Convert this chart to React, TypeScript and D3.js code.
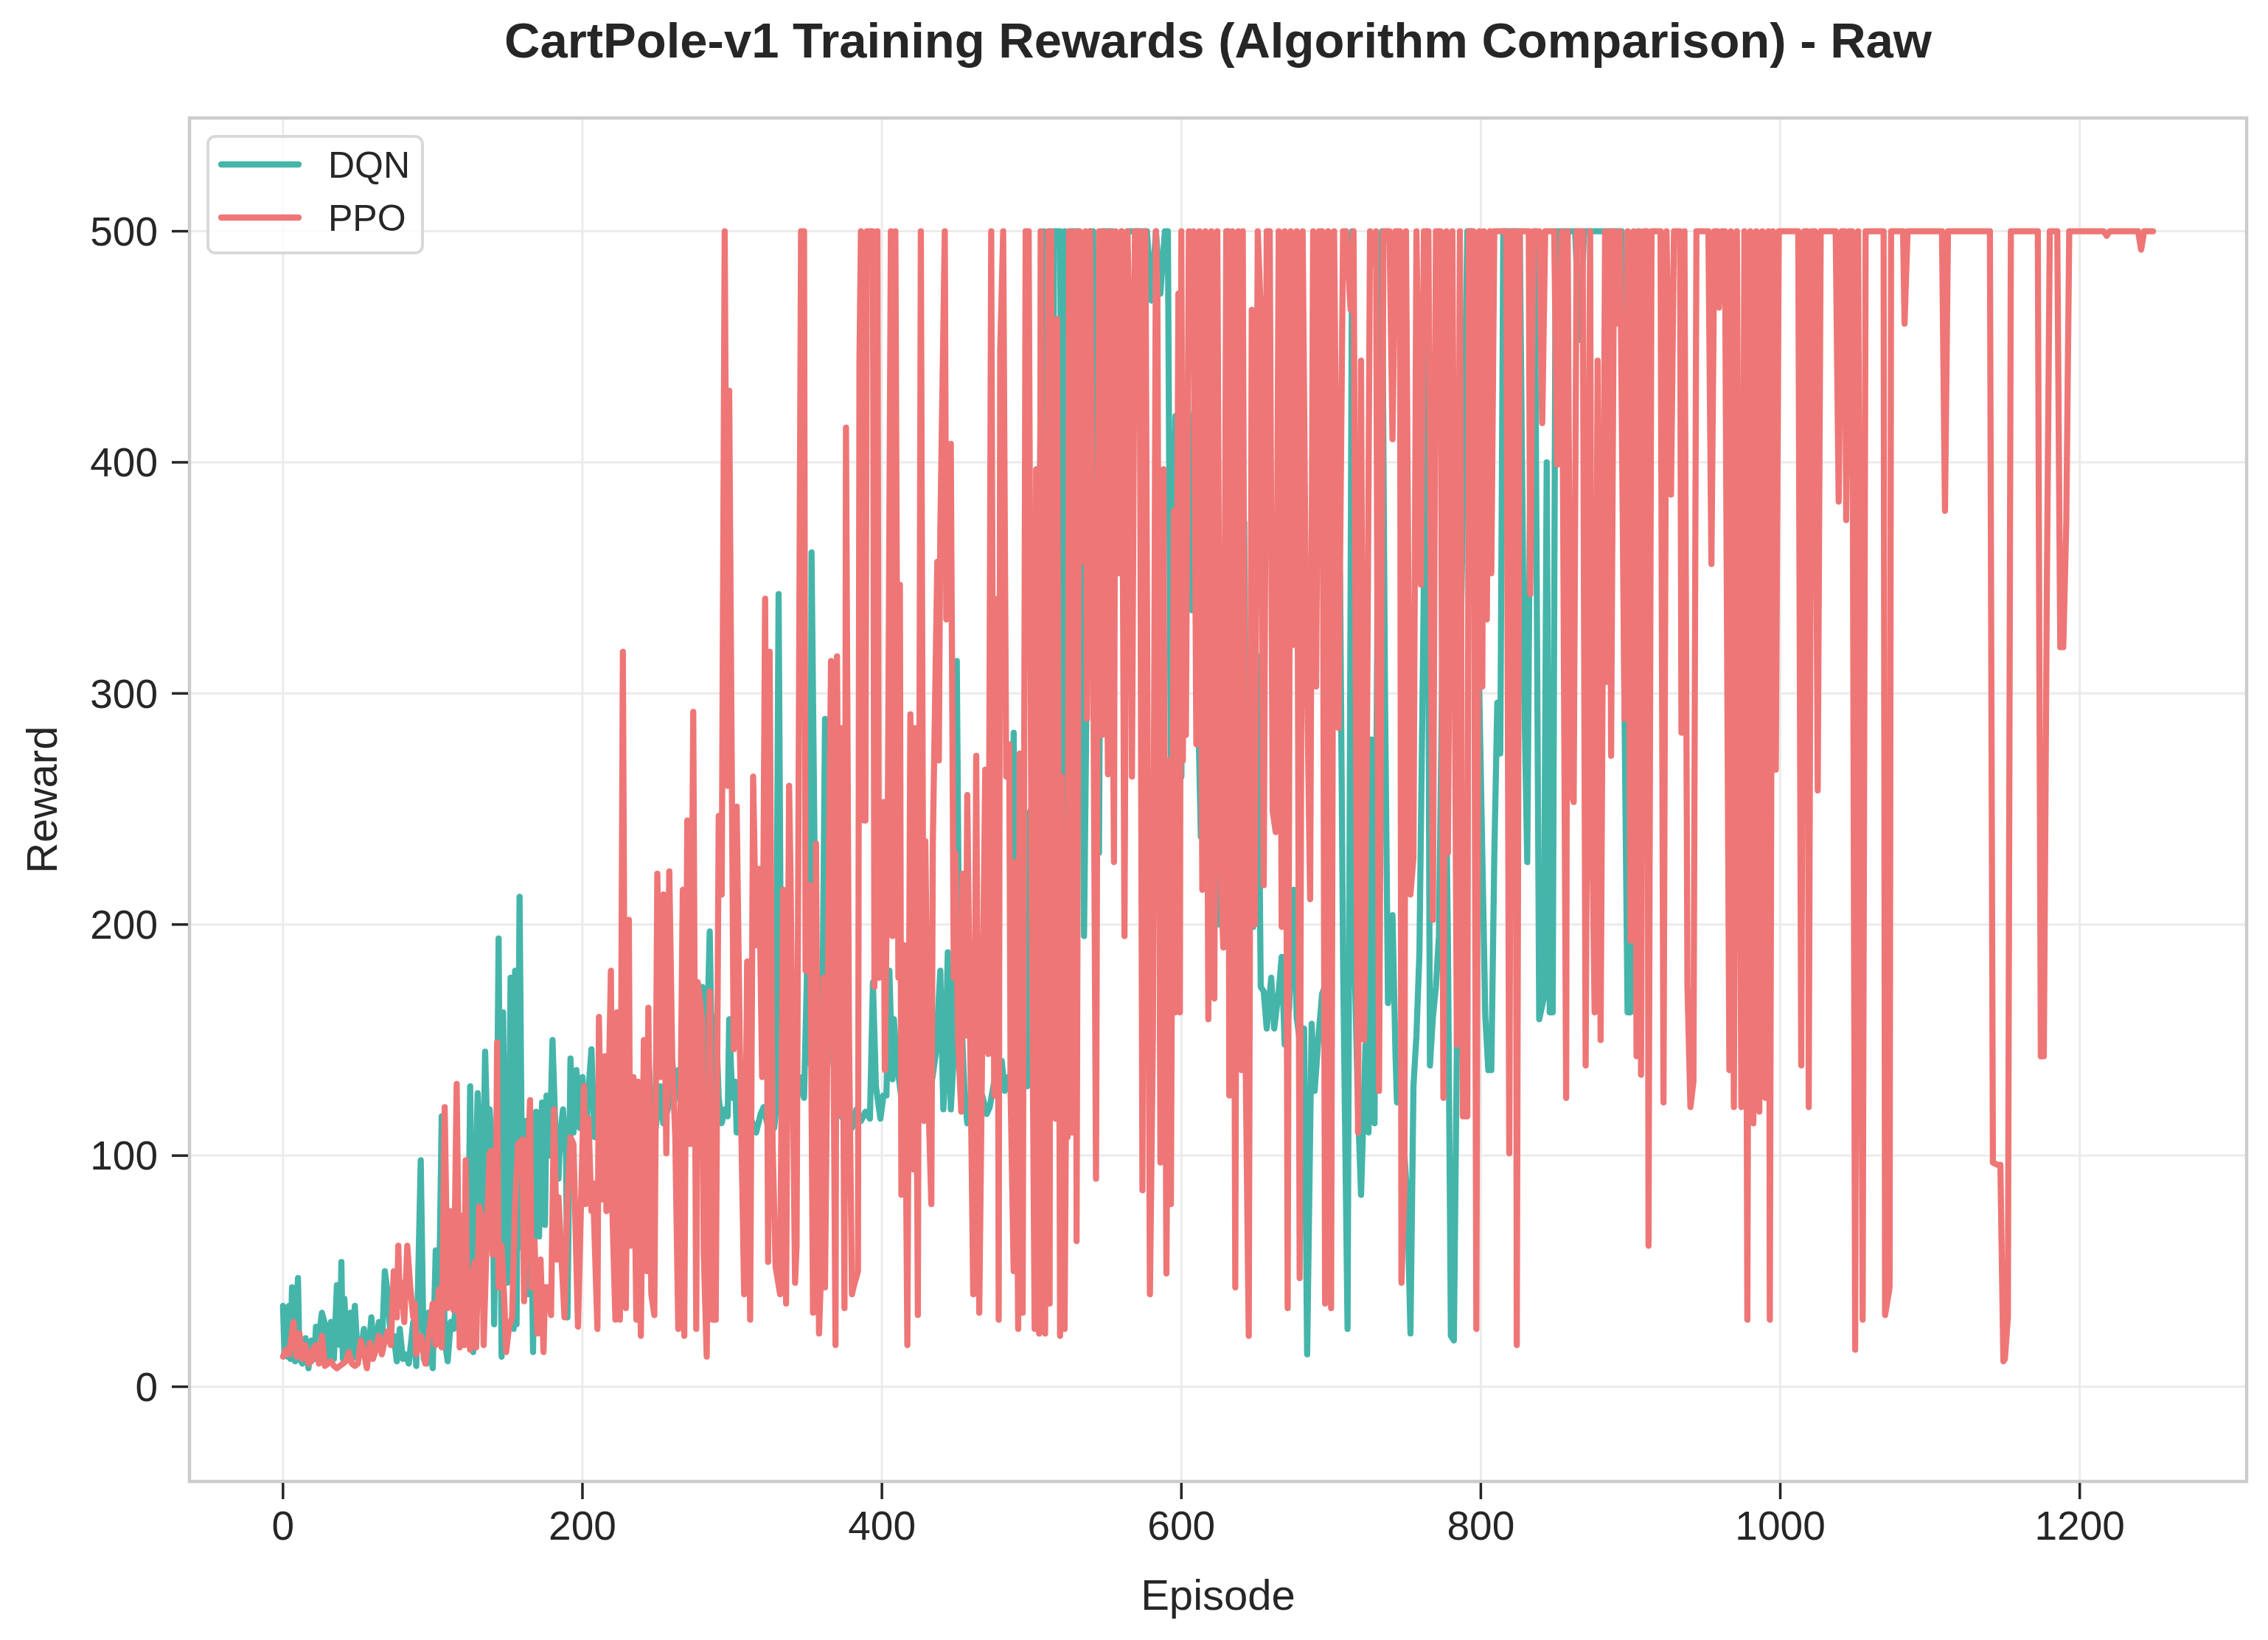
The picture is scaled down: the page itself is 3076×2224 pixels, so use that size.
import * as d3 from 'd3';

type Point = [number, number]; // [episode, reward]

const SERIES_NAMES = ['DQN', 'PPO'];
const SERIES_COLORS = ['#45b5aa', '#ef7676'];
const X_TICKS = [0, 200, 400, 600, 800, 1000, 1200];
const Y_TICKS = [0, 100, 200, 300, 400, 500];

const TITLE = 'CartPole-v1 Training Rewards (Algorithm Comparison) - Raw';
const X_LABEL = 'Episode';
const Y_LABEL = 'Reward';

const DQN_REWARDS: Point[] = [
  [0,35],[1,14],[3,13],[4,35],[5,12],[6,43],[8,11],[10,47],[11,12],[13,10],[15,21],[17,8],[19,20],[21,12],[22,26],[24,22],
  [26,32],[28,27],[30,12],[32,28],[34,12],[36,44],[38,18],[39,54],[40,12],[41,38],[43,15],[45,32],[46,12],[48,35],[50,12],
  [52,15],[54,25],[56,12],[58,22],[59,30],[61,14],[64,28],[66,16],[68,50],[70,40],[72,20],[74,22],[76,11],[78,25],[80,12],
  [82,14],[84,10],[87,28],[89,9],[92,98],[94,12],[96,10],[97,32],[100,8],[102,59],[104,28],[106,117],[108,20],[110,11],
  [112,28],[114,25],[116,40],[118,48],[120,30],[122,55],[124,70],[125,130],[127,15],[128,70],[130,127],[132,90],[133,70],
  [135,145],[137,95],[138,120],[140,100],[141,27],[143,120],[144,194],[146,13],[147,162],[149,50],[150,45],[152,177],
  [154,25],[155,180],[156,27],[158,212],[160,60],[162,115],[164,40],[165,120],[167,15],[169,119],[171,65],[173,123],
  [175,70],[176,126],[178,100],[180,150],[182,110],[184,90],[185,108],[187,120],[189,100],[190,30],[192,142],[194,110],
  [196,137],[198,112],[200,134],[202,105],[204,128],[206,146],[208,108],[210,120],[212,130],[215,108],[218,137],[220,115],
  [223,119],[225,110],[228,126],[230,115],[233,101],[236,120],[238,126],[241,108],[244,144],[246,118],[249,112],[252,130],
  [254,114],[257,120],[260,141],[262,125],[264,137],[267,108],[269,120],[272,114],[275,144],[277,125],[280,173],[282,119],
  [285,197],[287,119],[289,160],[291,125],[293,114],[295,120],[297,117],[298,159],[300,125],[302,132],[303,110],[305,118],
  [307,106],[310,126],[313,115],[316,110],[319,118],[321,121],[323,115],[325,110],[326,135],[328,112],[329,118],[331,343],
  [333,128],[336,122],[339,125],[342,118],[345,134],[348,125],[350,180],[352,140],[353,361],[355,233],[357,130],[360,140],
  [362,289],[364,177],[366,150],[369,132],[372,118],[374,116],[377,125],[380,112],[383,120],[386,115],[389,119],[392,116],
  [394,175],[396,130],[399,116],[401,126],[403,126],[405,180],[407,133],[408,159],[410,140],[413,125],[415,130],[418,108],
  [420,125],[423,140],[425,118],[428,137],[430,125],[432,126],[434,135],[436,144],[439,180],[441,120],[442,130],[444,188],
  [446,120],[448,143],[450,314],[452,150],[453,162],[455,130],[457,114],[460,125],[462,126],[465,120],[467,126],[470,118],
  [472,121],[475,132],[477,126],[480,141],[482,128],[484,134],[486,134],[488,283],[490,150],[491,235],[493,140],[495,134],
  [497,130],[499,249],[502,155],[504,300],[506,420],[508,500],[510,354],[512,500],[513,209],[515,500],[517,500],[519,500],
  [521,264],[522,500],[523,206],[525,500],[527,500],[529,500],[531,500],[533,420],[535,195],[537,321],[539,500],[541,500],
  [543,400],[545,231],[547,500],[549,500],[551,500],[554,500],[557,470],[560,500],[563,444],[564,500],[567,500],[569,500],
  [571,500],[573,500],[575,500],[577,500],[580,470],[583,500],[586,473],[589,500],[591,500],[593,264],[596,420],[598,350],
  [600,264],[601,350],[603,430],[606,412],[607,336],[609,440],[611,300],[613,238],[615,238],[617,260],[619,215],[621,240],
  [623,220],[625,200],[627,217],[629,260],[631,500],[633,300],[635,220],[637,191],[639,250],[642,374],[643,264],[645,230],
  [648,199],[651,316],[653,173],[655,171],[657,155],[660,177],[662,155],[665,171],[667,186],[669,148],[672,164],[675,215],
  [677,160],[679,150],[682,155],[684,14],[687,157],[689,128],[692,155],[694,170],[697,175],[699,260],[701,300],[703,400],
  [706,350],[708,184],[711,25],[714,500],[716,175],[718,120],[720,83],[723,148],[725,110],[727,280],[729,114],[731,350],
  [734,500],[736,300],[738,166],[741,204],[743,144],[744,123],[746,140],[748,110],[751,80],[753,23],[755,130],[757,152],
  [759,188],[762,350],[764,500],[766,139],[768,160],[770,173],[772,195],[775,350],[778,195],[780,22],[782,20],[784,148],
  [786,300],[789,420],[791,500],[794,500],[797,420],[799,300],[801,230],[803,160],[805,137],[807,137],[809,230],[811,296],
  [813,274],[815,500],[817,500],[820,500],[823,500],[826,500],[829,300],[831,227],[833,400],[836,500],[839,159],[842,168],
  [844,400],[846,162],[848,162],[850,500],[853,500],[856,500],[860,500],[863,500],[866,453],[869,500],[872,500],[875,500],
  [878,500],[881,500],[885,500],[888,500],[891,500],[894,500],[896,289],[898,162],[900,162],[902,300],[905,500],
];

const PPO_REWARDS: Point[] = [
  [0,13],[2,16],[4,14],[7,28],[9,13],[11,23],[13,12],[15,18],[17,10],[19,11],[20,16],[22,18],[24,10],[26,22],[28,9],
  [30,10],[32,11],[34,9],[36,8],[38,9],[40,10],[42,11],[44,15],[46,10],[48,9],[50,10],[52,20],[54,15],[56,8],[58,19],
  [60,12],[62,16],[64,22],[66,14],[68,20],[70,24],[72,18],[74,50],[76,30],[77,61],[78,35],[79,45],[81,28],[83,61],[85,43],
  [87,30],[88,36],[89,14],[92,22],[95,10],[97,20],[100,36],[102,18],[104,42],[106,17],[108,121],[110,34],[112,76],[114,33],
  [116,131],[118,17],[119,74],[121,18],[122,98],[123,26],[125,16],[126,47],[128,54],[129,17],[131,78],[133,72],[134,18],
  [136,63],[138,101],[139,102],[140,57],[142,63],[143,149],[144,43],[146,61],[148,34],[149,15],[151,26],[153,30],[155,78],
  [157,105],[160,107],[161,37],[162,65],[165,124],[166,43],[168,63],[170,23],[172,55],[174,15],[175,43],[177,43],[179,31],
  [181,120],[183,55],[184,82],[188,30],[190,81],[192,108],[194,105],[197,26],[201,130],[202,79],[204,116],[206,76],
  [207,88],[210,25],[211,160],[213,81],[215,143],[216,76],[219,180],[220,76],[222,29],[223,162],[225,29],[227,318],[229,34],
  [231,202],[232,61],[234,134],[236,29],[237,132],[239,22],[241,150],[243,50],[244,164],[246,40],[248,31],[250,222],
  [252,134],[254,213],[256,101],[258,223],[260,141],[262,108],[264,25],[267,215],[268,22],[270,245],[272,105],[274,292],
  [276,25],[277,175],[280,159],[281,58],[283,13],[285,171],[287,29],[289,29],[291,247],[293,213],[295,500],[297,260],
  [298,431],[301,146],[303,251],[305,152],[308,40],[310,184],[312,29],[314,264],[316,191],[318,224],[320,134],[322,341],
  [324,54],[325,318],[327,105],[329,52],[332,40],[334,215],[336,36],[338,260],[339,220],[342,45],[343,61],[346,500],
  [348,500],[349,180],[352,217],[354,32],[356,235],[358,23],[359,43],[361,177],[362,43],[364,177],[366,314],[369,18],
  [370,316],[372,118],[373,285],[375,34],[376,415],[378,153],[380,40],[381,43],[384,50],[385,444],[386,500],[388,245],
  [389,245],[390,500],[392,500],[394,500],[395,173],[397,500],[398,177],[401,253],[402,137],[404,253],[406,500],[407,195],
  [409,500],[411,177],[412,347],[413,83],[415,191],[417,18],[419,291],[421,94],[422,285],[424,31],[426,500],[428,115],
  [429,236],[431,126],[433,79],[434,235],[437,357],[438,271],[439,370],[442,500],[443,332],[446,408],[448,177],[449,231],
  [451,148],[453,119],[454,222],[456,152],[457,256],[459,148],[461,40],[463,273],[465,32],[467,150],[469,267],[471,144],
  [473,500],[475,126],[477,341],[478,29],[479,448],[481,500],[483,264],[485,278],[486,126],[488,50],[489,227],[491,25],
  [492,274],[494,32],[496,500],[498,500],[500,213],[502,25],[503,397],[505,23],[506,500],[508,126],[509,23],[511,500],
  [512,36],[513,500],[514,264],[516,116],[517,462],[519,22],[520,264],[522,25],[523,126],[524,108],[525,500],[527,110],
  [529,500],[530,63],[532,500],[534,357],[536,500],[537,289],[539,500],[541,336],[543,90],[545,500],[547,282],[548,500],
  [551,265],[552,500],[555,227],[556,500],[558,352],[560,500],[562,195],[564,500],[566,440],[567,264],[569,500],[572,500],
  [574,85],[576,500],[579,40],[581,152],[583,500],[584,471],[586,97],[588,397],[590,49],[592,271],[593,79],[595,379],
  [596,162],[598,473],[599,162],[600,500],[601,271],[602,412],[603,282],[605,500],[606,440],[608,500],[610,278],[612,500],
  [614,215],[616,500],[618,159],[620,500],[622,168],[624,500],[626,230],[628,190],[630,500],[631,500],[632,126],[634,500],
  [636,43],[638,500],[640,137],[641,500],[643,137],[645,22],[647,466],[649,200],[651,500],[653,466],[655,217],[657,500],
  [659,500],[661,249],[663,240],[665,500],[667,199],[669,500],[671,34],[673,500],[675,321],[677,500],[679,47],[681,500],
  [683,350],[686,211],[688,500],[690,303],[692,500],[694,500],[696,36],[698,500],[700,34],[702,500],[705,285],[708,500],
  [710,500],[713,466],[715,500],[718,110],[720,444],[722,150],[724,283],[726,500],[728,486],[730,500],[732,128],[735,500],
  [737,500],[739,500],[741,410],[743,500],[746,500],[747,45],[749,87],[750,500],[753,213],[755,229],[757,500],[760,347],
  [762,500],[764,500],[765,500],[768,202],[770,500],[773,500],[775,125],[777,500],[778,231],[781,500],[784,148],[786,500],
  [788,117],[791,117],[792,500],[795,500],[797,25],[799,500],[801,303],[802,500],[804,332],[806,500],[807,352],[809,500],
  [811,500],[813,500],[815,500],[817,500],[819,101],[821,500],[823,500],[824,18],[826,500],[828,500],[830,500],[832,500],
  [833,343],[835,500],[837,500],[839,500],[841,417],[843,500],[845,500],[847,500],[849,500],[851,399],[854,500],[857,125],
  [858,500],[860,258],[862,253],[864,500],[866,500],[868,500],[870,139],[873,500],[874,258],[876,162],[878,444],[880,150],
  [883,500],[884,305],[886,500],[887,273],[889,500],[891,460],[893,500],[896,289],[898,500],[900,193],[902,500],[904,143],
  [906,500],[907,135],[909,500],[911,500],[912,61],[914,500],[916,500],[918,500],[920,500],[922,123],[924,500],[927,386],
  [929,500],[931,500],[933,500],[934,283],[936,500],[938,173],[940,121],[942,132],[944,500],[946,500],[948,500],[950,500],
  [952,500],[954,356],[956,500],[958,500],[959,467],[961,500],[963,500],[966,137],[967,500],[969,121],[971,500],[974,121],
  [976,500],[978,29],[980,500],[982,114],[984,500],[986,119],[988,500],[990,125],[992,500],[993,29],[995,500],[997,267],
  [999,500],[1012,500],[1014,139],[1016,500],[1018,500],[1019,121],[1021,500],[1023,500],[1025,258],[1027,500],[1037,500],
  [1039,383],[1041,500],[1043,500],[1044,375],[1046,500],[1048,500],[1050,16],[1052,500],[1053,341],[1055,29],[1057,500],
  [1067,500],[1069,500],[1070,31],[1073,43],[1074,500],[1082,500],[1083,460],[1085,500],[1108,500],[1110,379],[1112,500],
  [1140,500],[1142,97],[1145,96],[1147,96],[1149,11],[1150,12],[1152,30],[1154,500],[1172,500],[1174,143],[1176,143],
  [1178,343],[1180,500],[1185,500],[1187,320],[1189,320],[1191,374],[1193,500],[1216,500],[1218,498],[1220,500],[1239,500],
  [1241,492],[1243,500],[1249,500],
];

const SERIES = [DQN_REWARDS, PPO_REWARDS];

const WIDTH = 3076;
const HEIGHT = 2224;
const MARGIN = { top: 160, right: 29, bottom: 215, left: 257 };
const FONT = '"Liberation Sans", Arial, Helvetica, sans-serif';
const INK = '#262626';

export default function App() {
  const boundsWidth = WIDTH - MARGIN.left - MARGIN.right;
  const boundsHeight = HEIGHT - MARGIN.top - MARGIN.bottom;

  // matplotlib style 5% padding on x
  const xMax = d3.max(SERIES, (s) => d3.max(s, (d) => d[0])) ?? 0;
  const pad = xMax * 0.05;
  const xScale = d3.scaleLinear().domain([-pad, xMax + pad]).range([0, boundsWidth]);
  const yScale = d3.scaleLinear().domain([-41, 549]).range([boundsHeight, 0]);

  const lineBuilder = d3
    .line<Point>()
    .x((d) => xScale(d[0]))
    .y((d) => yScale(d[1]));

  return (
    <svg
      width={WIDTH}
      height={HEIGHT}
      style={{ position: 'absolute', left: 0, top: 0, background: '#fff' }}
      fontFamily={FONT}
    >
      <text
        x={MARGIN.left + boundsWidth / 2}
        y={78}
        textAnchor="middle"
        fontSize={67}
        fontWeight="bold"
        fill={INK}
      >
        {TITLE}
      </text>

      <g transform={`translate(${MARGIN.left},${MARGIN.top})`}>
        {/* grid */}
        {X_TICKS.map((t) => (
          <line key={'gx' + t} x1={xScale(t)} x2={xScale(t)} y1={0} y2={boundsHeight} stroke="#ebebeb" strokeWidth={3} />
        ))}
        {Y_TICKS.map((t) => (
          <line key={'gy' + t} x1={0} x2={boundsWidth} y1={yScale(t)} y2={yScale(t)} stroke="#ebebeb" strokeWidth={3} />
        ))}

        {/* series, PPO drawn last so it sits on top */}
        {SERIES.map((s, i) => (
          <path
            key={SERIES_NAMES[i]}
            d={lineBuilder(s) ?? ''}
            fill="none"
            stroke={SERIES_COLORS[i]}
            strokeWidth={8.3}
            strokeLinejoin="round"
            strokeLinecap="round"
          />
        ))}

        {/* spines */}
        <rect x={0} y={0} width={boundsWidth} height={boundsHeight} fill="none" stroke="#cccccc" strokeWidth={4.5} />

        {/* x ticks */}
        {X_TICKS.map((t) => (
          <g key={'tx' + t} transform={`translate(${xScale(t)},${boundsHeight})`}>
            <line y1={2} y2={24} stroke={INK} strokeWidth={3.5} />
            <text y={79} textAnchor="middle" fontSize={55} fill={INK}>
              {t}
            </text>
          </g>
        ))}
        {/* y ticks */}
        {Y_TICKS.map((t) => (
          <g key={'ty' + t} transform={`translate(0,${yScale(t)})`}>
            <line x1={-2} x2={-24} stroke={INK} strokeWidth={3.5} />
            <text x={-43} dy="0.35em" textAnchor="end" fontSize={55} fill={INK}>
              {t}
            </text>
          </g>
        ))}

        {/* legend */}
        <g transform="translate(25,25)">
          <rect x={0} y={0} width={291} height={158} rx={10} ry={10} fill="#fff" fillOpacity={0.8} stroke="#d9d9d9" strokeWidth={4} />
          {SERIES_NAMES.map((name, i) => (
            <g key={name} transform={`translate(0,${38 + i * 72})`}>
              <line x1={18} x2={123} stroke={SERIES_COLORS[i]} strokeWidth={8.3} strokeLinecap="round" />
              <text x={163} dy="0.36em" fontSize={50} fill={INK}>
                {name}
              </text>
            </g>
          ))}
        </g>
      </g>

      <text x={MARGIN.left + boundsWidth / 2} y={2183} textAnchor="middle" fontSize={58} fill={INK}>
        {X_LABEL}
      </text>
      <text
        transform={`translate(77,${MARGIN.top + boundsHeight / 2}) rotate(-90)`}
        textAnchor="middle"
        fontSize={58}
        fill={INK}
      >
        {Y_LABEL}
      </text>
    </svg>
  );
}
